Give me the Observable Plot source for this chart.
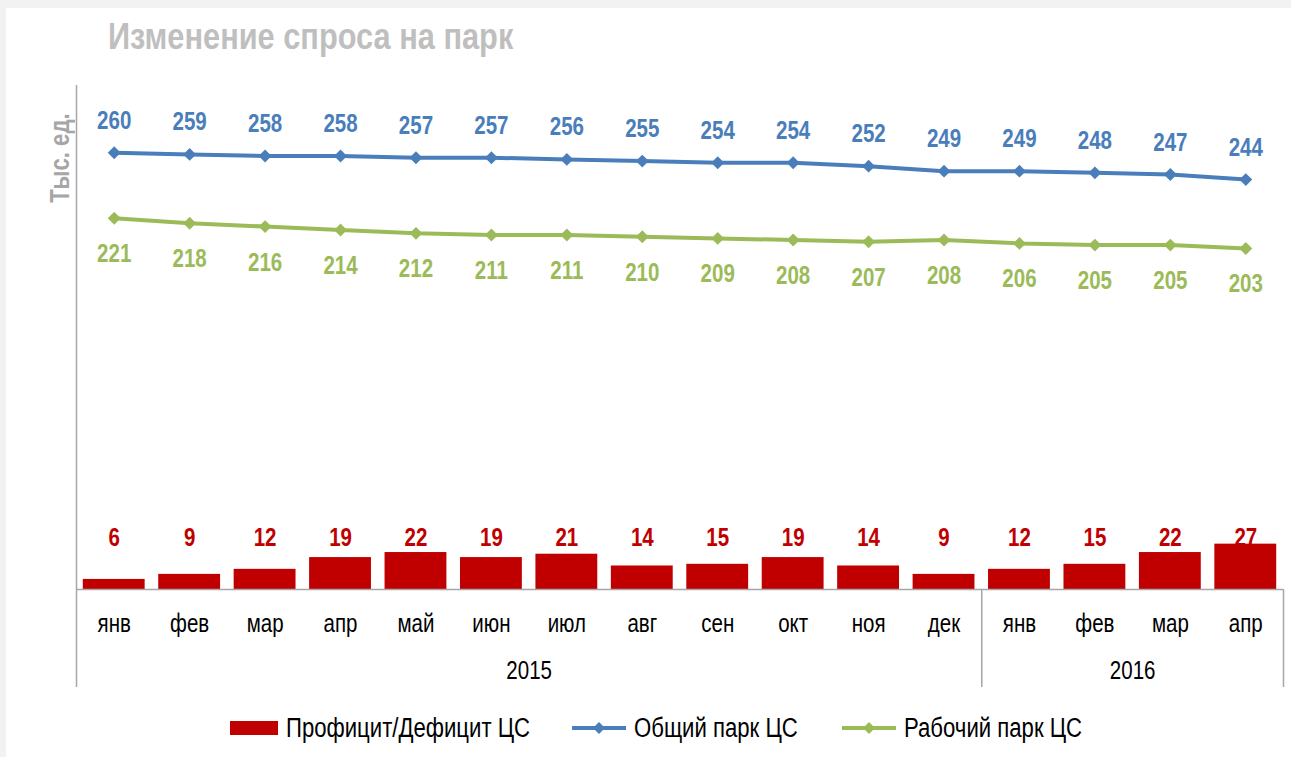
<!DOCTYPE html>
<html>
<head>
<meta charset="utf-8">
<script src="https://cdn.jsdelivr.net/npm/d3@7"></script>
<script src="https://cdn.jsdelivr.net/npm/@observablehq/plot@0.6"></script>
<style>
  body { margin: 0; background: #f2f2f2; font-family: "Liberation Sans Narrow", "Arial Narrow", "Liberation Sans", Arial, sans-serif; }
  #card { position: absolute; left: 6px; top: 8px; width: 1285px; height: 749px; background: #fff; }
  .narrow { display: inline-block; transform: scaleX(0.82); transform-origin: left center; white-space: nowrap; }
  #title { position: absolute; left: 108px; top: 18px; font-size: 37.5px; line-height: 37px; font-weight: bold; color: #bfbfbf; }
  #ylabel { position: absolute; left: 60px; top: 158px; transform: translate(-50%, -50%) rotate(-90deg); font-size: 27px; font-weight: bold; color: #a6a6a6; white-space: nowrap; }
  #ylabel span { display: inline-block; transform: scaleX(0.82); }
  #chart { position: absolute; left: 0; top: 0; }
  .legitem { position: absolute; top: 713px; height: 30px; display: flex; align-items: center; font-size: 27px; color: #000; white-space: nowrap; }
</style>
</head>
<body>
<div id="card"></div>
<div id="title"><span class="narrow">Изменение спроса на парк</span></div>
<div id="ylabel"><span>Тыс. ед.</span></div>
<div id="chart"></div>
<div id="legend"></div>
<script>
// ---- data ----
const periods = ["2015-01","2015-02","2015-03","2015-04","2015-05","2015-06","2015-07","2015-08","2015-09","2015-10","2015-11","2015-12","2016-01","2016-02","2016-03","2016-04"];
const monthLabels = ["янв","фев","мар","апр","май","июн","июл","авг","сен","окт","ноя","дек","янв","фев","мар","апр"];
const yearLabels = ["2015","2016"];
const surplus = [6, 9, 12, 19, 22, 19, 21, 14, 15, 19, 14, 9, 12, 15, 22, 27];
const totalFleet = [260, 259, 258, 258, 257, 257, 256, 255, 254, 254, 252, 249, 249, 248, 247, 244];
const workingFleet = [221, 218, 216, 214, 212, 211, 211, 210, 209, 208, 207, 208, 206, 205, 205, 203];
const seriesNames = ["Профицит/Дефицит ЦС", "Общий парк ЦС", "Рабочий парк ЦС"];

const RED = "#c00000", BLUE = "#4a7ebb", GREEN = "#9bbb59", AXIS = "#a6a6a6";
const FONT = '"Liberation Sans Narrow", "Arial Narrow", "Liberation Sans", Arial, sans-serif';

const data = periods.map((p, i) => ({
  p, month: monthLabels[i], year: p.slice(0, 4),
  surplus: surplus[i], total: totalFleet[i], working: workingFleet[i]
}));

const W = 1291, H = 700, mL = 76, mR = 8, mT = 85, mB = 111;
const step = (W - mL - mR) / periods.length;
const below = 98; // axis area depth below baseline

// year groups
const groups = yearLabels.map(y => {
  const idx = periods.map((p, i) => p.startsWith(y) ? i : -1).filter(i => i >= 0);
  return {year: y, start: idx[0], end: idx[idx.length - 1]};
});

const yearMarks = groups.map(g => {
  const mid = (g.start + g.end) / 2;
  const base = Math.floor(mid);
  return Plot.text([g], {
    x: () => periods[base], text: "year", frameAnchor: "bottom", lineAnchor: "middle",
    dy: 81, dx: (mid - base) * step, fontSize: 25, fill: "#000"
  });
});

const boundaries = [
  ...groups.map(g => ({p: periods[g.start], side: -1})),
  {p: periods[periods.length - 1], side: 1}
];

const chart = Plot.plot({
  width: W, height: H,
  marginLeft: mL, marginRight: mR, marginTop: mT, marginBottom: mB,
  x: {type: "band", domain: periods, paddingInner: 0.18, paddingOuter: 0.09, round: false, axis: null},
  y: {domain: [0, 300], axis: null},
  style: {background: "transparent", fontFamily: FONT, overflow: "visible"},
  marks: [
    Plot.barY(data, {x: "p", y: "surplus", fill: RED}),
    Plot.ruleY([0], {stroke: AXIS, strokeWidth: 1.5}),
    // left axis line
    Plot.ruleX([periods[0]], {dx: -step / 2, stroke: AXIS, strokeWidth: 1.5, insetBottom: -below}),
    // group separators
    Plot.ruleX(boundaries.filter(b => b.side < 0 && b.p !== periods[0]), {x: "p", y1: 0, y2: 0, dx: -step / 2, insetBottom: -below, stroke: AXIS, strokeWidth: 1.5}),
    Plot.ruleX(boundaries.filter(b => b.side > 0), {x: "p", y1: 0, y2: 0, dx: step / 2, insetBottom: -below, stroke: AXIS, strokeWidth: 1.5}),
    // month labels
    Plot.text(data, {x: "p", text: "month", frameAnchor: "bottom", lineAnchor: "middle", dy: 34, fontSize: 25, fill: "#000"}),
    ...yearMarks,
    // lines
    Plot.line(data, {x: "p", y: "total", stroke: BLUE, strokeWidth: 4}),
    Plot.dot(data, {x: "p", y: "total", symbol: "diamond2", r: 5.8, fill: BLUE, stroke: null}),
    Plot.line(data, {x: "p", y: "working", stroke: GREEN, strokeWidth: 4}),
    Plot.dot(data, {x: "p", y: "working", symbol: "diamond2", r: 5.8, fill: GREEN, stroke: null}),
    // value labels
    Plot.text(data, {x: "p", y: "total", text: d => String(d.total), dy: -32, fill: BLUE, fontSize: 25, fontWeight: "bold"}),
    Plot.text(data, {x: "p", y: "working", text: d => String(d.working), dy: 36, fill: GREEN, fontSize: 25, fontWeight: "bold"}),
    Plot.text(data, {x: "p", text: d => String(d.surplus), frameAnchor: "bottom", lineAnchor: "middle", dy: -52, fill: RED, fontSize: 25, fontWeight: "bold"})
  ]
});
document.getElementById("chart").appendChild(chart);

// emulate a narrow face: compress every text horizontally around its anchor
chart.querySelectorAll("text").forEach(t => {
  const len = t.getComputedTextLength();
  if (len > 0) {
    t.setAttribute("textLength", (len * 0.82).toFixed(2));
    t.setAttribute("lengthAdjust", "spacingAndGlyphs");
  }
});

// legend
const legend = document.getElementById("legend");
function addItem(kind, color, label, left) {
  const item = document.createElement("div");
  item.className = "legitem";
  item.style.left = left + "px";
  let sw;
  if (kind === "bar") {
    sw = `<svg width="48" height="16" style="flex:none"><rect x="0" y="1" width="48" height="14" fill="${color}"/></svg>`;
  } else {
    sw = `<svg width="54" height="16" style="flex:none"><line x1="0" y1="8" x2="54" y2="8" stroke="${color}" stroke-width="4"/><path d="M27,2 L33,8 L27,14 L21,8 Z" fill="${color}"/></svg>`;
  }
  item.innerHTML = sw + `<span class="narrow" style="margin-left:8px">${label}</span>`;
  legend.appendChild(item);
}
addItem("bar", RED, seriesNames[0], 230);
addItem("line", BLUE, seriesNames[1], 572);
addItem("line", GREEN, seriesNames[2], 842);
</script>
</body>
</html>
